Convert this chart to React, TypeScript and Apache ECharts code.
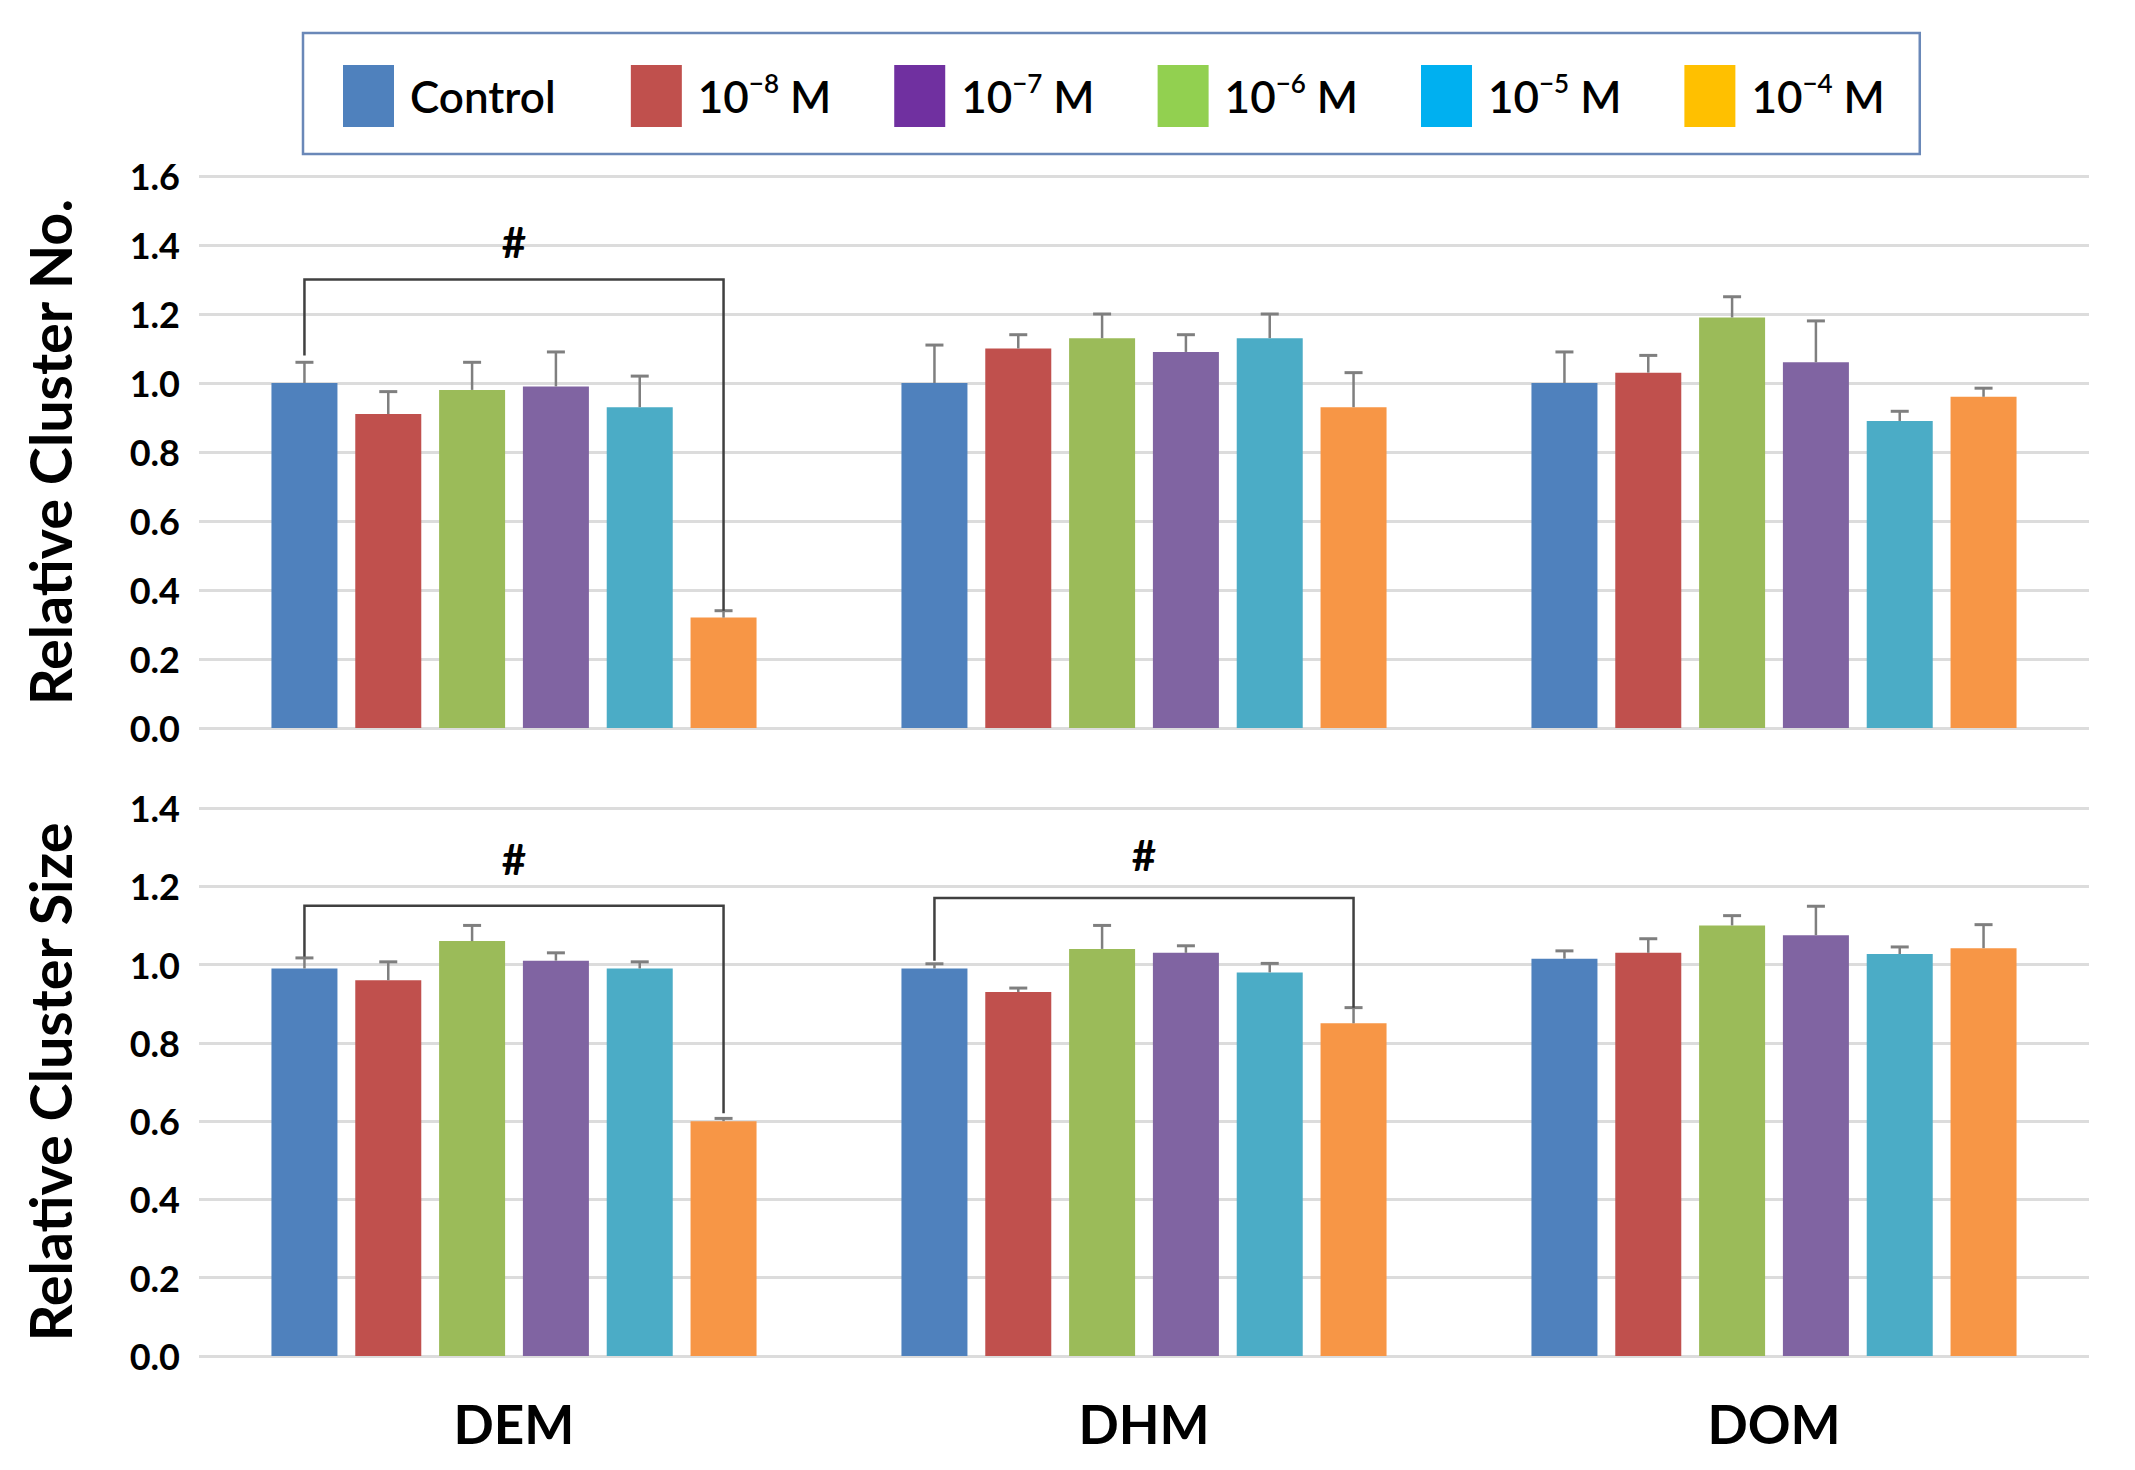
import React, { useEffect, useRef } from 'react';
import * as echarts from 'echarts';

const categories = ['DEM', 'DHM', 'DOM'];
const seriesNames = ['Control', '10-8 M', '10-7 M', '10-6 M', '10-5 M', '10-4 M'];
const legendExponents = ['', '−8', '−7', '−6', '−5', '−4'];
const barColors = ['#4F81BD', '#C0504D', '#9BBB59', '#8064A2', '#4BACC6', '#F79646'];
const legendColors = ['#4F81BD', '#C0504D', '#7030A0', '#92D050', '#00B0F0', '#FFC000'];

// Relative Cluster No. (rows = series, columns = DEM, DHM, DOM)
const clusterNo = [
  [1.0, 1.0, 1.0],
  [0.91, 1.1, 1.03],
  [0.98, 1.13, 1.19],
  [0.99, 1.09, 1.06],
  [0.93, 1.13, 0.89],
  [0.32, 0.93, 0.96],
];
const clusterNoErr = [
  [0.06, 0.11, 0.09],
  [0.065, 0.04, 0.05],
  [0.08, 0.07, 0.06],
  [0.1, 0.05, 0.12],
  [0.09, 0.07, 0.028],
  [0.02, 0.1, 0.025],
];

// Relative Cluster Size
const clusterSize = [
  [0.99, 0.99, 1.015],
  [0.96, 0.93, 1.03],
  [1.06, 1.04, 1.1],
  [1.01, 1.03, 1.075],
  [0.99, 0.98, 1.027],
  [0.6, 0.85, 1.042],
];
const clusterSizeErr = [
  [0.027, 0.012, 0.02],
  [0.047, 0.01, 0.036],
  [0.04, 0.06, 0.025],
  [0.02, 0.018, 0.074],
  [0.017, 0.023, 0.018],
  [0.007, 0.04, 0.06],
];

const topTicks = { min: 0, max: 1.6, interval: 0.2 };
const bottomTicks = { min: 0, max: 1.4, interval: 0.2 };

// significance brackets: [category, fromSeries, toSeries, level, leftEnd, rightEnd, markLevel]
const topBrackets = [[0, 0, 5, 1.3, 1.08, 0.34, 1.41]];
const bottomBrackets = [
  [0, 0, 5, 1.15, 1.02, 0.62, 1.27],
  [1, 0, 5, 1.17, 1.01, 0.89, 1.28],
];

const N = 6;
const CAT_GAP = 0.23;
const BAR_GAP = 0.27;
const FONT = 'Lato, "Open Sans", sans-serif';
const ERR_COLOR = '#7F7F7F';

function barOffset(api: any, idx: number) {
  const band = api.size([1, 0])[0];
  const bw = (band * (1 - CAT_GAP)) / (N + (N - 1) * BAR_GAP);
  return (idx - (N - 1) / 2) * bw * (1 + BAR_GAP);
}

function errorSeries(values: number[][], errs: number[][], gridIdx: number) {
  return values.map((row, si) => ({
    type: 'custom',
    xAxisIndex: gridIdx,
    yAxisIndex: gridIdx,
    z: 5,
    silent: true,
    encode: { x: 0, y: [1, 2] },
    data: row.map((v, ci) => [ci, v, v + errs[si][ci]]),
    renderItem: (params: any, api: any) => {
      const ci = api.value(0);
      const base = api.coord([ci, api.value(1)]);
      const top = api.coord([ci, api.value(2)]);
      const x = base[0] + barOffset(api, si);
      const cap = 9;
      return {
        type: 'group',
        children: [
          { type: 'line', shape: { x1: x, y1: base[1], x2: x, y2: top[1] }, style: { stroke: ERR_COLOR, lineWidth: 2.5 } },
          { type: 'line', shape: { x1: x - cap, y1: top[1], x2: x + cap, y2: top[1] }, style: { stroke: ERR_COLOR, lineWidth: 3 } },
        ],
      };
    },
  }));
}

function bracketSeries(brackets: number[][], gridIdx: number) {
  return {
    type: 'custom',
    xAxisIndex: gridIdx,
    yAxisIndex: gridIdx,
    z: 6,
    silent: true,
    encode: { x: 0, y: 3 },
    data: brackets,
    renderItem: (params: any, api: any) => {
      const ci = api.value(0);
      const from = api.value(1);
      const to = api.value(2);
      const lvl = api.coord([ci, api.value(3)]);
      const le = api.coord([ci, api.value(4)]);
      const re = api.coord([ci, api.value(5)]);
      const mk = api.coord([ci, api.value(6)]);
      const x1 = lvl[0] + barOffset(api, from);
      const x2 = lvl[0] + barOffset(api, to);
      return {
        type: 'group',
        children: [
          {
            type: 'polyline',
            shape: { points: [[x1, le[1]], [x1, lvl[1]], [x2, lvl[1]], [x2, re[1]]] },
            style: { stroke: '#404040', lineWidth: 2.5, fill: null },
          },
          {
            type: 'text',
            x: (x1 + x2) / 2,
            y: mk[1],
            style: { text: '#', fontSize: 42, fontWeight: 'bold', fontFamily: FONT, fill: '#000', align: 'center', verticalAlign: 'middle' },
          },
        ],
      };
    },
  };
}

function barSeries(values: number[][], gridIdx: number) {
  return values.map((row, si) => ({
    type: 'bar',
    name: seriesNames[si],
    xAxisIndex: gridIdx,
    yAxisIndex: gridIdx,
    data: row,
    barCategoryGap: CAT_GAP * 100 + '%',
    barGap: BAR_GAP * 100 + '%',
    itemStyle: { color: barColors[si] },
  }));
}

function yAxis(gridIdx: number, ticks: any, name: string) {
  return {
    type: 'value',
    gridIndex: gridIdx,
    min: ticks.min,
    max: ticks.max,
    interval: ticks.interval,
    name,
    nameLocation: 'middle',
    nameRotate: 90,
    nameGap: 121,
    nameTextStyle: { fontSize: 57.5, fontWeight: 'bold', fontFamily: FONT, color: '#000' },
    axisLine: { show: false },
    axisTick: { show: false },
    axisLabel: {
      fontSize: 36,
      fontWeight: 'bold',
      fontFamily: FONT,
      color: '#000',
      margin: 19,
      formatter: (v: number) => v.toFixed(1),
    },
    splitLine: { lineStyle: { color: '#DCDCDC', width: 3 } },
  };
}

function xAxis(gridIdx: number, showLabels: boolean) {
  return {
    type: 'category',
    gridIndex: gridIdx,
    data: categories,
    axisLine: { show: false },
    axisTick: { show: false },
    axisLabel: {
      show: showLabels,
      fontSize: 53,
      fontWeight: 'bold',
      fontFamily: FONT,
      color: '#000',
      margin: 41,
    },
  };
}

export default function App() {
  const ref = useRef<HTMLDivElement>(null);
  useEffect(() => {
    document.body.style.margin = '0';
    const chart = echarts.init(ref.current!, null, { renderer: 'svg' });
    chart.setOption({
      animation: false,
      backgroundColor: '#fff',
      legend: {
        left: 303,
        top: 33,
        orient: 'horizontal',
        padding: [32, 35, 27, 40],
        borderColor: '#6A88B8',
        borderWidth: 2.5,
        itemWidth: 51,
        itemHeight: 62,
        itemGap: 63,
        icon: 'rect',
        data: seriesNames.map((n, i) => ({ name: n, itemStyle: { color: legendColors[i] } })),
        formatter: (name: string) => {
          const i = seriesNames.indexOf(name);
          if (!legendExponents[i]) return `{b|${name}}{sp| }`;
          return `{b|10}{s|${legendExponents[i]}}{b| M}`;
        },
        textStyle: {
          color: '#000',
          padding: [0, 0, 0, 11],
          rich: {
            b: { fontSize: 44, fontWeight: 600, fontFamily: FONT, color: '#000', lineHeight: 52 },
            s: { fontSize: 26, fontWeight: 600, fontFamily: FONT, color: '#000', verticalAlign: 'top', lineHeight: 26 },
            sp: { fontSize: 44, width: 12 },
          },
        },
      },
      grid: [
        { left: 199, right: 46, top: 176, height: 552 },
        { left: 199, right: 46, top: 808, height: 548 },
      ],
      xAxis: [xAxis(0, false), xAxis(1, true)],
      yAxis: [yAxis(0, topTicks, 'Relative Cluster No.'), yAxis(1, bottomTicks, 'Relative Cluster Size')],
      series: [
        ...barSeries(clusterNo, 0),
        ...barSeries(clusterSize, 1),
        ...errorSeries(clusterNo, clusterNoErr, 0),
        ...errorSeries(clusterSize, clusterSizeErr, 1),
        bracketSeries(topBrackets, 0),
        bracketSeries(bottomBrackets, 1),
      ],
    });
    return () => chart.dispose();
  }, []);
  return <div ref={ref} style={{ width: 2135, height: 1470 }} />;
}
